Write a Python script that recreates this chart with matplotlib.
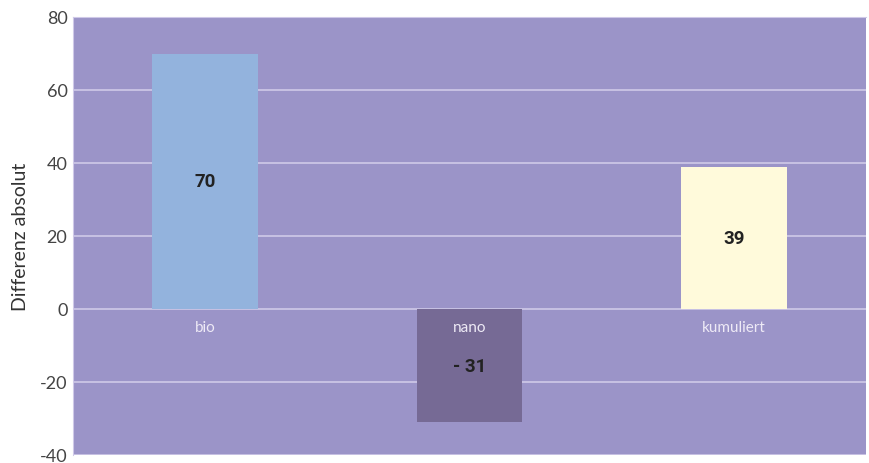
import matplotlib
matplotlib.use("Agg")
import matplotlib.pyplot as plt

# data
categories = ["bio", "nano", "kumuliert"]
values = [70, -31, 39]
value_labels = ["70", "- 31", "39"]
bar_colors = ["#93b3dd", "#766a95", "#fffadb"]

plt.rcParams['font.family'] = ['Lato', 'DejaVu Sans']
plt.rcParams['axes.unicode_minus'] = False

fig = plt.figure(figsize=(8.7, 4.64), dpi=100)
ax = fig.add_axes([73/870, 8/464, 793/870, 438/464])
ax.set_facecolor("#9b94c8")

x = list(range(len(categories)))
ax.bar(x, values, width=0.4, color=bar_colors, zorder=3)

for xi, v, lab in zip(x, values, value_labels):
    ax.text(xi, v / 2, lab, ha="center", va="center", fontsize=13.5,
            fontweight="bold", color="#222222", zorder=4,
            family=["Roboto", "DejaVu Sans"])
    ax.text(xi, -5, categories[xi], ha="center", va="center", fontsize=11,
            color="#eeeaf6", zorder=4)

ax.set_xlim(-0.5, 2.5)
ax.set_ylim(-40, 80)
ax.set_yticks([-40, -20, 0, 20, 40, 60, 80])
ax.set_xticks([])
ax.grid(axis="y", color="#cfc9e8", linewidth=1.2, zorder=1)
ax.tick_params(axis="y", length=0, labelsize=13, labelcolor="#444444", pad=4)
for s in ["right", "bottom"]:
    ax.spines[s].set_visible(False)
ax.spines["left"].set_color("#cfc9e8")
ax.spines["top"].set_color("#cfc9e8")

ax.set_ylabel("Differenz absolut", fontsize=14, color="#333333", labelpad=8)

fig.savefig("out.png", dpi=100)
